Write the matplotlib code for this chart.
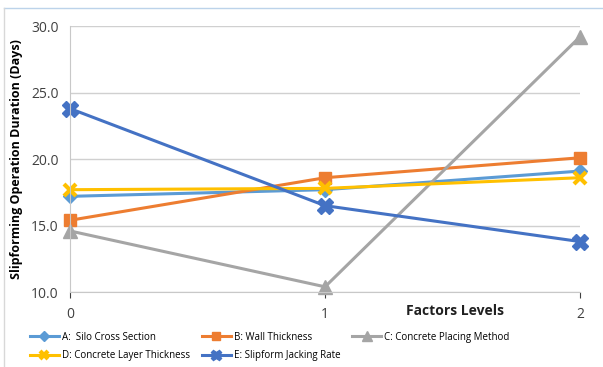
import matplotlib.pyplot as plt
from matplotlib.lines import Line2D

levels = [0, 1, 2]
silo_cross = [17.2, 17.7, 19.1]
wall_thick = [15.4, 18.6, 20.1]
placing = [14.6, 10.4, 29.2]
layer_thick = [17.7, 17.8, 18.6]
jacking = [23.8, 16.5, 13.8]

plt.rcParams['font.family'] = ['Open Sans', 'DejaVu Sans']

fig = plt.figure(figsize=(6.03, 3.67), dpi=100)
ax = fig.add_axes([0.116, 0.204, 0.846, 0.725])

ax.plot(levels, silo_cross, color='#5b9bd5', lw=2.2, marker='D', ms=7, clip_on=False, label='A:  Silo Cross Section')
ax.plot(levels, wall_thick, color='#ed7d31', lw=2.2, marker='s', ms=9, clip_on=False, label='B: Wall Thickness')
ax.plot(levels, placing, color='#a5a5a5', lw=2.2, marker='^', ms=10, clip_on=False, label='C: Concrete Placing Method')
ax.plot(levels, layer_thick, color='#ffc000', lw=2.2, marker='x', ms=9, mew=3, clip_on=False, label='D: Concrete Layer Thickness')
ax.plot(levels, jacking, color='#4472c4', lw=2.2, marker='X', ms=11, clip_on=False, label='E: Slipform Jacking Rate')

ax.set_xlim(0, 2)
ax.set_ylim(10, 30)
ax.set_xticks(levels)
ax.set_yticks([10, 15, 20, 25, 30])
ax.set_yticklabels(['10.0', '15.0', '20.0', '25.0', '30.0'])
ax.tick_params(labelsize=10, colors='#404040', length=4)
ax.tick_params(axis='x', pad=7)
ax.tick_params(axis='y', length=0, pad=8)
ax.grid(axis='y', color='#d0d0d0', lw=1)
ax.set_axisbelow(True)
for s in ['top', 'right']:
    ax.spines[s].set_visible(False)
ax.spines['left'].set_color('#c8c8c8')
ax.spines['bottom'].set_color('#c8c8c8')

ax.set_ylabel('Slipforming Operation Duration (Days)', fontsize=9, fontweight='bold', labelpad=6)
fig.text(0.755, 0.152, 'Factors Levels', fontsize=10, fontweight='bold', ha='center', va='center', color='#202020')

h, l = ax.get_legend_handles_labels()
order = [0, 3, 1, 4, 2]
fig.legend([h[i] for i in order], [l[i] for i in order], ncol=3, loc='upper left',
           bbox_to_anchor=(0.035, 0.12), frameon=False, fontsize=7, handlelength=3,
           columnspacing=1.2, labelspacing=0.75, handletextpad=0.3, markerscale=0.7)

# thin frame edge along top and left
fig.add_artist(Line2D([4 / 603, 1], [1 - 8 / 367, 1 - 8 / 367], color='#bcd3ea', lw=1))
fig.add_artist(Line2D([4 / 603, 4 / 603], [0, 1 - 8 / 367], color='#d8d8d8', lw=1))

fig.savefig('out.png', dpi=100)
